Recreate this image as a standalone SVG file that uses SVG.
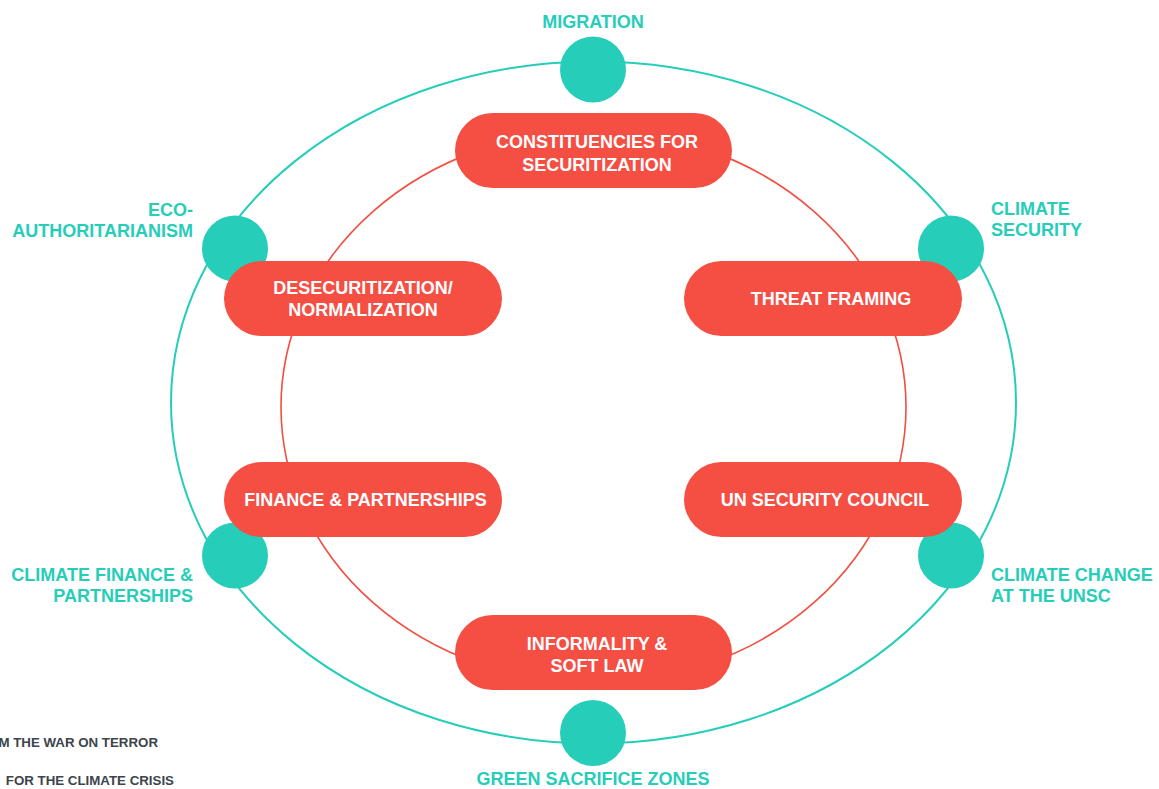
<svg xmlns="http://www.w3.org/2000/svg" width="1159" height="789" viewBox="0 0 1159 789">
<style>
.ring-outer{fill:none;stroke:#26cdb9;stroke-width:2}
.ring-inner{fill:none;stroke:#f24e42;stroke-width:1.6}
.dot{fill:#26cdb9}
.pill{fill:#f54e43}
.pt{font-family:"Liberation Sans",Arial,sans-serif;font-weight:bold;font-size:18px;fill:#ffffff;text-anchor:middle}
.tl{font-family:"Liberation Sans",Arial,sans-serif;font-weight:bold;font-size:18px;fill:#26cdb9}
.leg{font-family:"Liberation Sans",Arial,sans-serif;font-weight:bold;font-size:13.3px;fill:#3b454b;text-anchor:end}
</style>
<rect width="1159" height="789" fill="#ffffff"/>
<g id="connectors">
<ellipse class="ring-outer" cx="593.5" cy="402.5" rx="422.5" ry="341"/>
<ellipse class="ring-inner" cx="593.5" cy="407" rx="312.5" ry="276"/>
</g>
<g id="migration"><circle class="dot" cx="593" cy="69.5" r="33"/><text class="tl" x="593" y="28" text-anchor="middle">MIGRATION</text></g>
<g id="eco-authoritarianism"><circle class="dot" cx="235" cy="248.5" r="33"/><text class="tl" text-anchor="end"><tspan x="193" y="215.5">ECO-</tspan><tspan x="193" y="237">AUTHORITARIANISM</tspan></text></g>
<g id="climate-security"><circle class="dot" cx="951" cy="248.5" r="33"/><text class="tl"><tspan x="991" y="214.5">CLIMATE</tspan><tspan x="991" y="236">SECURITY</tspan></text></g>
<g id="climate-finance"><circle class="dot" cx="235" cy="555.5" r="33"/><text class="tl" text-anchor="end"><tspan x="193" y="581">CLIMATE FINANCE &amp;</tspan><tspan x="193" y="602">PARTNERSHIPS</tspan></text></g>
<g id="climate-change-unsc"><circle class="dot" cx="951" cy="555.5" r="33"/><text class="tl"><tspan x="991" y="581">CLIMATE CHANGE</tspan><tspan x="991" y="602">AT THE UNSC</tspan></text></g>
<g id="green-sacrifice-zones"><circle class="dot" cx="593" cy="733" r="33"/><text class="tl" x="593" y="785" text-anchor="middle">GREEN SACRIFICE ZONES</text></g>
<g id="constituencies"><rect class="pill" x="455" y="113" width="277" height="75" rx="37.5"/><text class="pt"><tspan x="597" y="148">CONSTITUENCIES FOR</tspan><tspan x="597" y="171">SECURITIZATION</tspan></text></g>
<g id="desecuritization"><rect class="pill" x="224" y="261" width="278" height="75" rx="37.5"/><text class="pt"><tspan x="363" y="294">DESECURITIZATION/</tspan><tspan x="363" y="316">NORMALIZATION</tspan></text></g>
<g id="threat-framing"><rect class="pill" x="684" y="261" width="278" height="75" rx="37.5"/><text class="pt" x="831" y="305">THREAT FRAMING</text></g>
<g id="finance-partnerships"><rect class="pill" x="224" y="462" width="278" height="75" rx="37.5"/><text class="pt" x="365.5" y="506">FINANCE &amp; PARTNERSHIPS</text></g>
<g id="un-security-council"><rect class="pill" x="684" y="462" width="278" height="75" rx="37.5"/><text class="pt" x="825" y="506">UN SECURITY COUNCIL</text></g>
<g id="informality"><rect class="pill" x="455" y="615" width="277" height="75" rx="37.5"/><text class="pt"><tspan x="597" y="650">INFORMALITY &amp;</tspan><tspan x="597" y="672">SOFT LAW</tspan></text></g>
<g id="legend"><text class="leg" x="158" y="746.5">M THE WAR ON TERROR</text><text class="leg" x="174" y="785">FOR THE CLIMATE CRISIS</text></g>
</svg>
